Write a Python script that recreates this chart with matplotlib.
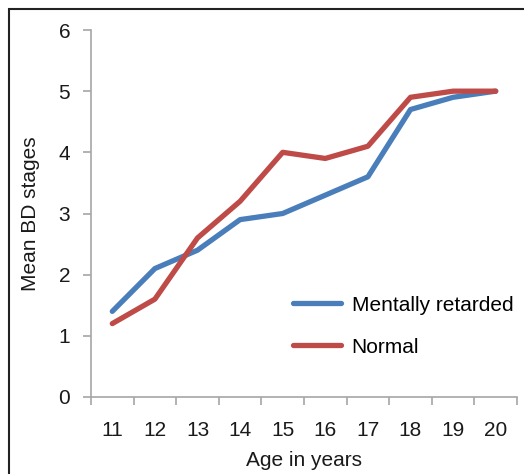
import matplotlib.pyplot as plt
from matplotlib.patches import Rectangle

plt.rcParams['font.family'] = ['Liberation Sans', 'DejaVu Sans']

ages = ["11", "12", "13", "14", "15", "16", "17", "18", "19", "20"]
mentally_retarded = [1.4, 2.1, 2.4, 2.9, 3.0, 3.3, 3.6, 4.7, 4.9, 5.0]
normal = [1.2, 1.6, 2.6, 3.2, 4.0, 3.9, 4.1, 4.9, 5.0, 5.0]

W, H = 524, 474
fig = plt.figure(figsize=(W / 100, H / 100), dpi=100)
ax = fig.add_axes([91 / W, 1 - 397 / H, (517 - 91) / W, (397 - 30) / H])

x = range(len(ages))
ax.plot(x, mentally_retarded, color='#4A7EBB', lw=3.8, label='Mentally retarded',
        solid_capstyle='round', solid_joinstyle='round')
ax.plot(x, normal, color='#BE4B48', lw=3.8, label='Normal',
        solid_capstyle='round', solid_joinstyle='round')

ax.set_xlim(-0.5, len(ages) - 0.5)
ax.set_ylim(0, 6)
ax.set_xticks(list(x))
ax.set_xticklabels(ages)
ax.set_xticks([i - 0.5 for i in range(len(ages) + 1)], minor=True)
ax.tick_params(axis='x', which='major', length=0, pad=17, labelsize=15, colors='#1a1a1a')
ax.tick_params(axis='x', which='minor', length=6, width=1.2, color='#A6A6A6', direction='out')
ax.set_yticks(range(7))
ax.tick_params(axis='y', length=6, width=1.2, color='#A6A6A6', pad=9, labelsize=15,
               labelcolor='#1a1a1a')

for s in ['top', 'right']:
    ax.spines[s].set_visible(False)
for s in ['left', 'bottom']:
    ax.spines[s].set_color('#A6A6A6')
    ax.spines[s].set_linewidth(1.2)

ax.set_xlabel('Age in years', fontsize=15, color='#1a1a1a', labelpad=8)
ax.set_ylabel('Mean BD stages', fontsize=15, color='#1a1a1a', labelpad=13)

ax.legend(loc='lower right', bbox_to_anchor=(1.035, 0.059), frameon=False, fontsize=15,
          handlelength=2.3, handletextpad=0.5, labelspacing=1.1)

# chart area border (only top and left edges visible in the crop)
fig.patches.append(Rectangle((9 / W, -0.1), 1.2, 1 - 9 / H + 0.1, transform=fig.transFigure,
                             fill=False, edgecolor='#222222', lw=1.5))

fig.savefig('out.png', dpi=100)
